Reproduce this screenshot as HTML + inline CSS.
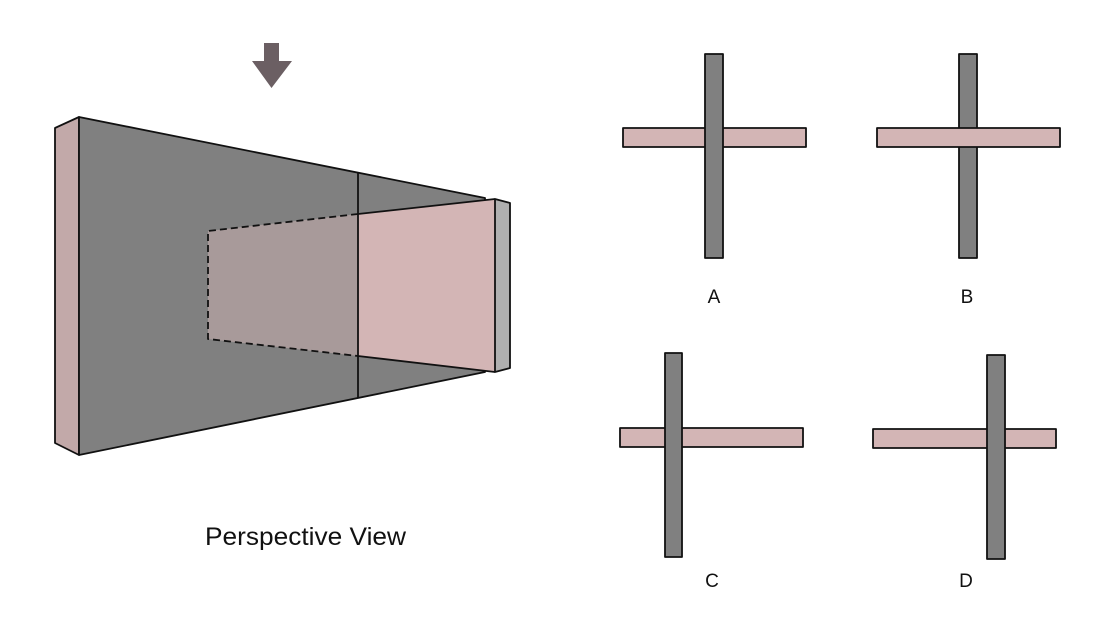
<!DOCTYPE html>
<html><head><meta charset="utf-8"><style>html,body{margin:0;padding:0;background:#fff}svg{display:block}</style></head>
<body>
<svg width="1095" height="641" viewBox="0 0 1095 641" xmlns="http://www.w3.org/2000/svg">
<g stroke="#111" stroke-width="1.8" stroke-linejoin="round">
<!-- arrow -->
<polygon points="264,43 279,43 279,61 292,61 271.5,88 252,61 264,61" fill="#6b5f63" stroke="none"/>
<!-- left edge -->
<polygon points="55,128 79,117 79,455 55,443" fill="#c2a9a9"/>
<!-- main gray -->
<polygon points="79,117 485,198 485,372 79,455" fill="#808080"/>
<!-- hidden part of slab -->
<polygon points="208,231 358,214 358,356 208,339" fill="#a89a9a" stroke="none"/>
<polyline points="358,214 208,231 208,339 358,356" fill="none" stroke-dasharray="7,4"/>
<!-- visible slab -->
<polygon points="358,214 495,199 495,372 358,356" fill="#d3b5b5" stroke="none"/>
<polyline points="358,214 495,199" fill="none"/>
<polyline points="358,356 495,372" fill="none"/>
<line x1="358" y1="173" x2="358" y2="398"/>
<!-- end face -->
<polygon points="495,199 510,203 510,368 495,372" fill="#b0b0b0"/>
<!-- A -->
<rect x="623" y="128" width="183" height="19" fill="#d3b5b5"/>
<rect x="705" y="54" width="18" height="204" fill="#808080"/>
<!-- B -->
<rect x="959" y="54" width="18" height="204" fill="#808080"/>
<rect x="877" y="128" width="183" height="19" fill="#d3b5b5"/>
<!-- C -->
<rect x="620" y="428" width="183" height="19" fill="#d3b5b5"/>
<rect x="665" y="353" width="17" height="204" fill="#808080"/>
<!-- D -->
<rect x="873" y="429" width="183" height="19" fill="#d3b5b5"/>
<rect x="987" y="355" width="18" height="204" fill="#808080"/>
</g>
<g font-family="Liberation Sans, sans-serif" fill="#111" text-anchor="middle">
<text x="305.5" y="545" font-size="25" textLength="201" lengthAdjust="spacingAndGlyphs">Perspective View</text>
<text x="714" y="303" font-size="19">A</text>
<text x="967" y="303" font-size="19">B</text>
<text x="712" y="587" font-size="19">C</text>
<text x="966" y="587" font-size="19">D</text>
</g>
</svg>
</body></html>
